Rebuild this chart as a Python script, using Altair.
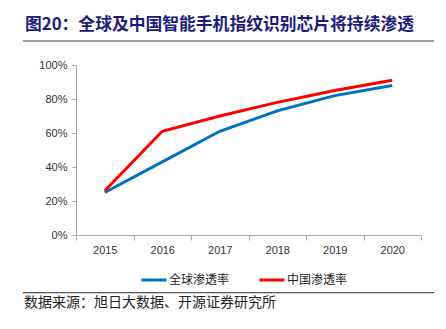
import altair as alt
import pandas as pd

years = ["2015", "2016", "2017", "2018", "2019", "2020"]
global_rate = [0.25, 0.43, 0.61, 0.73, 0.82, 0.88]
china_rate = [0.26, 0.61, 0.70, 0.78, 0.85, 0.91]
series_names = ["全球渗透率", "中国渗透率"]
series_colors = ["#0070C0", "#FF0000"]
title_text = ["图20：全球及中国智能手机指纹识别芯片将持续渗透"]
source_text = ["数据来源：旭日大数据、开源证券研究所"]

rows = []
for y, g, c in zip(years, global_rate, china_rate):
    rows.append({"year": y, "series": series_names[0], "value": g})
    rows.append({"year": y, "series": series_names[1], "value": c})
df = pd.DataFrame(rows)

CJK = "Noto Sans CJK SC"

lines = alt.Chart(df).mark_line(strokeWidth=3).encode(
    x=alt.X("year:O", title=None,
            scale=alt.Scale(type="band", paddingInner=0, paddingOuter=0),
            axis=alt.Axis(labelAngle=0, tickBand="extent", domainColor="#A6A6A6",
                          tickColor="#A6A6A6", tickSize=5, labelPadding=4,
                          labelFontSize=11, labelColor="#333333",
                          labelFont="Liberation Sans", grid=False)),
    y=alt.Y("value:Q", title=None,
            scale=alt.Scale(domain=[0, 1]),
            axis=alt.Axis(values=[0, 0.2, 0.4, 0.6, 0.8, 1.0], format=".0%",
                          domainColor="#A6A6A6", tickColor="#A6A6A6", tickSize=4,
                          labelPadding=5, labelFontSize=11, labelColor="#333333",
                          labelFont="Liberation Sans", grid=False)),
    color=alt.Color("series:N", sort=series_names,
                    scale=alt.Scale(domain=series_names, range=series_colors),
                    legend=alt.Legend(title=None, orient="none", legendX=64, legendY=201,
                                      direction="horizontal", symbolType="stroke",
                                      symbolSize=625, symbolStrokeWidth=3,
                                      labelOffset=1, columnPadding=23, padding=0,
                                      labelFont=CJK, labelFontSize=12,
                                      labelColor="#222222")),
    order=alt.Order("year:O"),
)

title = alt.Chart(pd.DataFrame({"t": title_text})).mark_text(
    align="left", baseline="middle", fontSize=16.8, fontWeight="bold",
    font=CJK, color="#1B1B7E"
).encode(text="t:N", x=alt.value(-51), y=alt.value(-40))

source = alt.Chart(pd.DataFrame({"t": source_text})).mark_text(
    align="left", baseline="middle", fontSize=14, font=CJK, color="#222222"
).encode(text="t:N", x=alt.value(-52), y=alt.value(237.5))

top_rule = alt.Chart(pd.DataFrame({"a": [0]})).mark_rule(
    color="#7F7F7F", strokeWidth=1.5
).encode(x=alt.value(-53), x2=alt.value(358), y=alt.value(-24))

bottom_rule = alt.Chart(pd.DataFrame({"a": [0]})).mark_rule(
    color="#555555", strokeWidth=1.2
).encode(x=alt.value(-53), x2=alt.value(358), y=alt.value(227.7))

chart = alt.layer(lines, title, source, top_rule, bottom_rule).properties(
    width=345, height=170,
    padding={"left": 76, "top": 65, "right": 25, "bottom": 94},
    autosize=alt.AutoSizeParams(type="none"),
    background="white",
).configure_view(stroke=None)

chart.save("out.html", embed_options={"renderer": "svg", "actions": False})
